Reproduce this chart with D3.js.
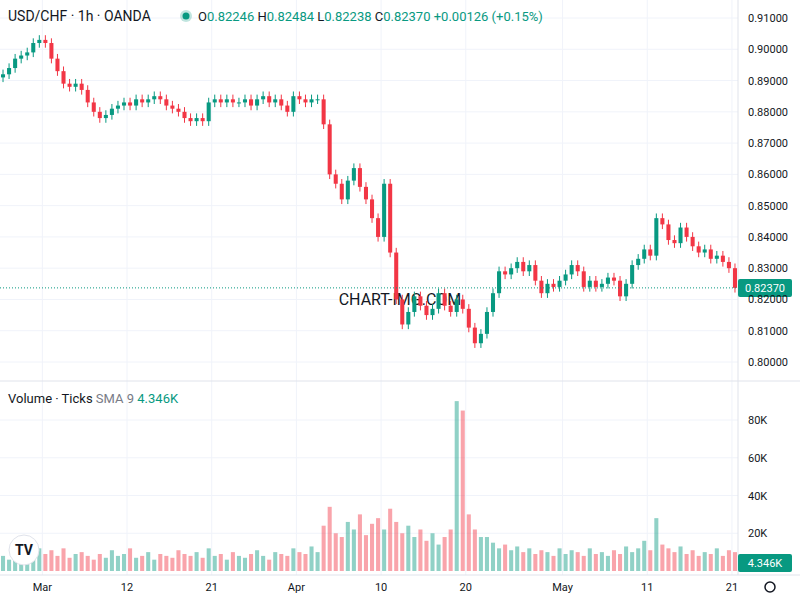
<!DOCTYPE html>
<html>
<head>
<meta charset="utf-8">
<script src="https://cdn.jsdelivr.net/npm/d3@7/dist/d3.min.js"></script>
<style>
body{margin:0;background:#fff;}
text{font-family:"Roboto","Noto Sans",sans-serif;}
</style>
</head>
<body>
<svg id="chart" width="800" height="600"></svg>
<script>
// half-day candles, closes
var closes = [0.892,0.894,0.897,0.898,0.899,0.902,0.903,0.902,0.897,0.893,
  0.889,0.888,0.889,0.887,0.883,0.880,0.878,0.879,0.881,0.882,
  0.883,0.882,0.884,0.883,0.884,0.885,0.884,0.882,0.881,0.880,
  0.878,0.877,0.878,0.877,0.883,0.884,0.883,0.884,0.883,0.883,
  0.884,0.882,0.884,0.885,0.883,0.884,0.882,0.880,0.885,0.884,
  0.883,0.884,0.884,0.876,0.860,0.857,0.852,0.858,0.862,0.856,
  0.852,0.846,0.840,0.857,0.835,0.820,0.812,0.816,0.821,0.818,
  0.815,0.817,0.822,0.818,0.816,0.820,0.817,0.811,0.806,0.809,
  0.816,0.822,0.829,0.828,0.830,0.832,0.829,0.831,0.826,0.822,
  0.825,0.824,0.826,0.828,0.831,0.829,0.824,0.826,0.824,0.825,
  0.827,0.826,0.821,0.825,0.831,0.833,0.836,0.834,0.846,0.844,
  0.839,0.838,0.843,0.840,0.837,0.835,0.836,0.833,0.834,0.832,
  0.830,0.8237];
var firstOpen = 0.891;
var volumes = [8,6,9,7,10,8,12,9,11,8,
  12,7,9,10,8,6,9,7,11,8,
  9,12,7,8,10,6,9,8,7,11,
  9,8,10,7,12,8,9,6,10,8,
  7,9,11,8,6,10,9,8,12,10,
  9,13,10,24,34,20,18,26,22,30,
  19,25,28,22,33,26,20,24,18,22,
  16,20,14,18,22,90,85,30,22,18,
  18,15,12,14,11,13,10,12,9,11,
  10,8,12,9,11,10,8,12,9,10,
  8,11,9,13,10,12,16,11,28,14,
  12,10,13,9,11,8,10,9,12,8,11,10];
var priceTicks = [0.80,0.81,0.82,0.83,0.84,0.85,0.86,0.87,0.88,0.89,0.90,0.91];
var volTicks = [20,40,60,80];
var timeTicks = [["Mar","2025-03-03"],["12","2025-03-12"],["21","2025-03-21"],["Apr","2025-04-01"],
  ["10","2025-04-10"],["20","2025-04-21"],["May","2025-05-01"],["11","2025-05-12"],["21","2025-05-21"]];

var UP = "#089981", DOWN = "#f23645";
var svg = d3.select("#chart");

// trading days Feb 26 .. May 21 2025 (weekends skipped)
var days = [];
for (var d = new Date(2025,1,26); d <= new Date(2025,4,21); d.setDate(d.getDate()+1)) {
  if (d.getDay() != 0 && d.getDay() != 6) days.push(d3.timeFormat("%Y-%m-%d")(d));
}
var candles = closes.map(function(c, i){
  var o = i == 0 ? firstOpen : closes[i-1];
  return {i:i, o:o, c:c, h:Math.max(o,c)+0.0015, l:Math.min(o,c)-0.0015, v:volumes[i]};
});

var x = d3.scaleLinear().domain([0, closes.length]).range([0, 738]);
var xDay = function(ds){ return x((days.indexOf(ds)+0.5)*2); };
var y = d3.scaleLinear().domain([0.80,0.91]).range([362,18]);
var yv = d3.scaleLinear().domain([0,80]).range([571,420]);

// grid
svg.append("g").selectAll("line").data(priceTicks).enter().append("line")
  .attr("x1",0).attr("x2",738).attr("y1",function(d){return y(d);}).attr("y2",function(d){return y(d);})
  .attr("stroke","#f0f3fa");
svg.append("g").selectAll("line").data(volTicks).enter().append("line")
  .attr("x1",0).attr("x2",738).attr("y1",function(d){return yv(d);}).attr("y2",function(d){return yv(d);})
  .attr("stroke","#f0f3fa");
svg.append("g").selectAll("line").data(timeTicks).enter().append("line")
  .attr("x1",function(d){return xDay(d[1]);}).attr("x2",function(d){return xDay(d[1]);})
  .attr("y1",0).attr("y2",575).attr("stroke","#f0f3fa");
svg.append("line").attr("x1",0).attr("x2",800).attr("y1",381).attr("y2",381).attr("stroke","#e0e3eb");
svg.append("line").attr("x1",738).attr("x2",738).attr("y1",0).attr("y2",575).attr("stroke","#e0e3eb");
svg.append("line").attr("x1",0).attr("x2",800).attr("y1",575).attr("y2",575).attr("stroke","#e0e3eb");

// watermark
svg.append("text").attr("x",400).attr("y",305).attr("text-anchor","middle")
  .attr("font-size",16).attr("fill","#131722").text("CHART-IMG.COM");

// volume
var bw = x(1)-x(0);
svg.append("g").selectAll("rect").data(candles).enter().append("rect")
  .attr("x",function(d){return x(d.i)+1;}).attr("width",bw-2)
  .attr("y",function(d){return yv(d.v);}).attr("height",function(d){return yv(0)-yv(d.v);})
  .attr("fill",function(d){return d.c>=d.o?UP:DOWN;}).attr("opacity",0.45);

// candles
var g = svg.append("g");
g.selectAll("line").data(candles).enter().append("line")
  .attr("x1",function(d){return x(d.i+0.5);}).attr("x2",function(d){return x(d.i+0.5);})
  .attr("y1",function(d){return y(d.h);}).attr("y2",function(d){return y(d.l);})
  .attr("stroke",function(d){return d.c>=d.o?UP:DOWN;});
g.selectAll("rect").data(candles).enter().append("rect")
  .attr("x",function(d){return x(d.i)+1;}).attr("width",bw-2)
  .attr("y",function(d){return y(Math.max(d.o,d.c));})
  .attr("height",function(d){return Math.max(1,Math.abs(y(d.o)-y(d.c)));})
  .attr("fill",function(d){return d.c>=d.o?UP:DOWN;});

// last price line + label
var last = closes[closes.length-1];
svg.append("line").attr("x1",0).attr("x2",738).attr("y1",y(last)).attr("y2",y(last))
  .attr("stroke",UP).attr("stroke-dasharray","1,2");
svg.append("rect").attr("x",738).attr("y",y(last)-9).attr("width",54).attr("height",18).attr("rx",2).attr("fill",UP);
svg.append("text").attr("x",765).attr("y",y(last)+4).attr("text-anchor","middle").attr("font-size",11)
  .attr("fill","#fff").text(d3.format(".5f")(last));

// axes labels
svg.append("g").selectAll("text").data(priceTicks).enter().append("text")
  .attr("x",748).attr("y",function(d){return y(d)+4;}).attr("font-size",11).attr("fill","#131722")
  .text(function(d){return d3.format(".5f")(d);});
svg.append("g").selectAll("text").data(volTicks).enter().append("text")
  .attr("x",748).attr("y",function(d){return yv(d)+4;}).attr("font-size",11).attr("fill","#131722")
  .text(function(d){return d+"K";});
svg.append("rect").attr("x",738).attr("y",554).attr("width",54).attr("height",18).attr("rx",2).attr("fill",UP);
svg.append("text").attr("x",765).attr("y",567).attr("text-anchor","middle").attr("font-size",11).attr("fill","#fff").text("4.346K");
svg.append("g").selectAll("text").data(timeTicks).enter().append("text")
  .attr("x",function(d){return xDay(d[1]);}).attr("y",591).attr("text-anchor","middle")
  .attr("font-size",11).attr("fill","#131722").text(function(d){return d[0];});

// header
svg.append("text").attr("x",8).attr("y",21).attr("font-size",14).attr("fill","#131722").text("USD/CHF · 1h · OANDA");
svg.append("circle").attr("cx",186).attr("cy",16).attr("r",6).attr("fill",UP).attr("opacity",0.25);
svg.append("circle").attr("cx",186).attr("cy",16).attr("r",3.5).attr("fill",UP);
var hdr = svg.append("text").attr("x",198).attr("y",21).attr("font-size",13);
[["O","0.82246"],["H","0.82484"],["L","0.82238"],["C","0.82370"]].forEach(function(p){
  hdr.append("tspan").attr("fill","#131722").text(p[0]);
  hdr.append("tspan").attr("fill",UP).text(p[1]+"  ");
});
hdr.append("tspan").attr("fill",UP).text("+0.00126 (+0.15%)");
var vh = svg.append("text").attr("x",8).attr("y",403).attr("font-size",13);
vh.append("tspan").attr("fill","#131722").text("Volume · Ticks ");
vh.append("tspan").attr("fill","#787b86").text("SMA 9   ");
vh.append("tspan").attr("fill",UP).text("4.346K");

// logo + gear
svg.append("circle").attr("cx",24).attr("cy",550).attr("r",15).attr("fill","#fff").attr("stroke","#e0e3eb");
svg.append("text").attr("x",24).attr("y",555).attr("text-anchor","middle").attr("font-size",14)
  .attr("font-weight","bold").attr("fill","#131722").text("TV");
svg.append("circle").attr("cx",770).attr("cy",587).attr("r",5).attr("fill","none").attr("stroke","#131722").attr("stroke-width",1.5);
</script>
</body>
</html>
